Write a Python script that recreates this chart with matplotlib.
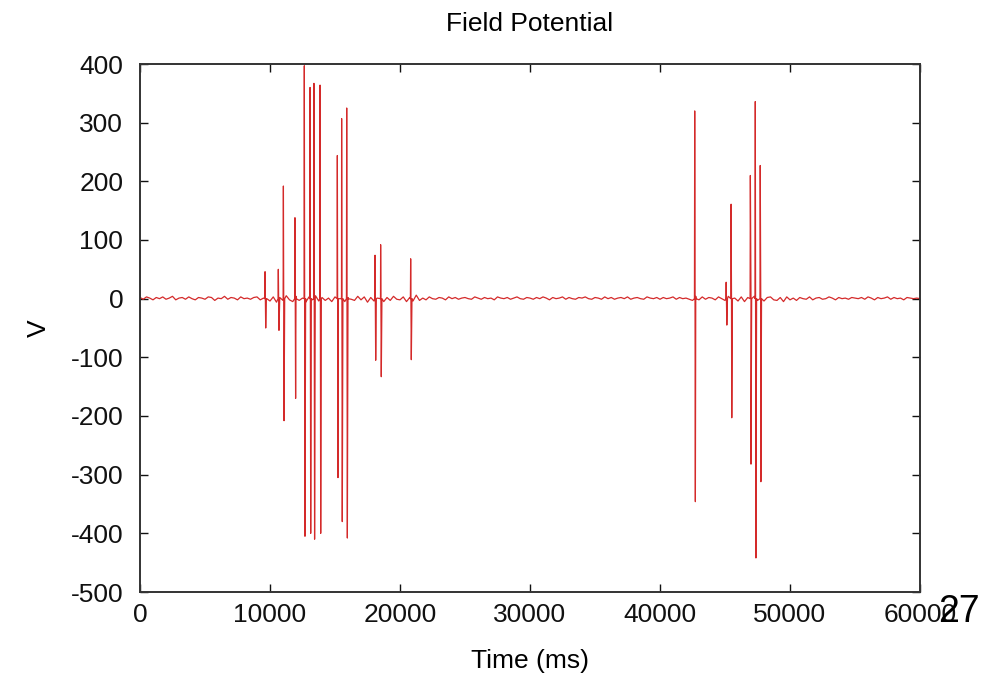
import numpy as np
import matplotlib
matplotlib.use("Agg")
from matplotlib import pyplot as plt

plt.rcParams['font.family'] = ['Liberation Sans', 'DejaVu Sans']
plt.rcParams['axes.unicode_minus'] = False

# baseline samples, one every 250 ms from 0 to 60000
baseline_step = 250
baseline_v = [
    2, -1, 3, 1, -2, 2, 0, 3, -1, 1, 4, -2, 1, 2, -1, 3, 0, -2, 2, 1,
    -1, 3, 2, -3, 1, 0, 4, -1, 2, 1, -2, 3, 0, 1, -1, 2, 3, -2, 1, 0,
    -4, 3, -6, 2, -3, 5, -2, -5, 4, -3, 1, -6, 3, -2, 5, -4, 2, -3, 1, -5,
    3, -2, 4, -5, 2, -1, -3, 4, -2, 3, -6, 2, -4, 1, 3, -5, 2, -3, 4, -1,
    -2, 3, -5, 2, -4, 6, -3, 1, -2, 3, 0, -1, 2, 1, -2, 3, 0, 2, -1, 1,
    2, 0, -1, 3, 1, -1, 2, 0, 1, -2, 3, 1, 0, 2, -1, 1, 3, 0, -1, 2,
    1, -1, 2, 0, 3, 1, -2, 2, 0, 1, 3, -1, 2, 0, -1, 2, 1, 3, 0, -1,
    2, 1, -1, 3, 0, 2, -1, 1, 2, 0, 3, -1, 1, 2, 0, -1, 3, 1, 0, 2,
    -1, 2, 0, 1, 3, -1, 2, 0, 1, -1, -3, 4, -2, 3, -1, 2, 1, -2, 3, 0,
    -3, 4, -2, 1, -4, 3, -5, 2, -2, 4, -3, 1, -4, 2, 3, -2, -3, 2, -5, 3,
    -2, 1, -3, 2, 0, -1, 3, -2, 1, 2, -1, 0, 3, 1, -2, 2, 0, 1, -1, 2,
    1, 0, 2, -1, 3, 1, -2, 2, 0, 1, 3, -1, 2, 0, 1, -2, 2, 1, 0, 1,
    0,
]

# spikes: time (ms), positive peak, negative trough
spike_t = [9620, 10640, 11030, 11920, 12640, 13080, 13380, 13850,
           15180, 15510, 15900, 18080, 18510, 20820,
           42670, 45090, 45470, 46950, 47330, 47710]
spike_peak = [46, 50, 192, 138, 397, 360, 367, 364,
              244, 307, 325, 74, 92, 68,
              320, 28, 161, 210, 336, 227]
spike_trough = [-50, -54, -208, -170, -405, -400, -410, -400,
                -305, -380, -408, -105, -133, -104,
                -346, -45, -203, -282, -442, -312]

baseline_t = np.arange(len(baseline_v)) * baseline_step
t = list(baseline_t)
v = list(baseline_v)
for st, pk, tr in zip(spike_t, spike_peak, spike_trough):
    t += [st - 20, st, st + 50, st + 100]
    v += [0, pk, tr, 0]
order = np.argsort(t, kind="stable")
t = np.array(t)[order]
v = np.array(v)[order]

fig = plt.figure(figsize=(9.88, 6.76), dpi=100)
ax = fig.add_axes([140 / 988, 1 - 592 / 676, 780 / 988, 528 / 676])

ax.plot(t, v, color="#d42a2a", linewidth=0.9)

ax.set_xlim(0, 60000)
ax.set_ylim(-500, 400)
ax.set_xticks(np.arange(0, 60001, 10000))
ax.set_yticks(np.arange(-500, 401, 100))
ax.tick_params(direction="in", top=True, right=True, length=6, width=1,
               labelsize=19, colors="#111111")
ax.tick_params(axis="y", pad=12)
ax.tick_params(axis="x", pad=8)
for s in ax.spines.values():
    s.set_linewidth(1.4)
    s.set_color("#333333")

ax.set_title("Field Potential", fontsize=19, pad=24)
ax.set_xlabel("Time (ms)", fontsize=19, labelpad=16)
ax.set_ylabel("V", fontsize=19, labelpad=14)

fig.text(959 / 988, 1 - 612 / 676, "27", fontsize=27, ha="center", va="center")

fig.savefig("out.png", dpi=100)
